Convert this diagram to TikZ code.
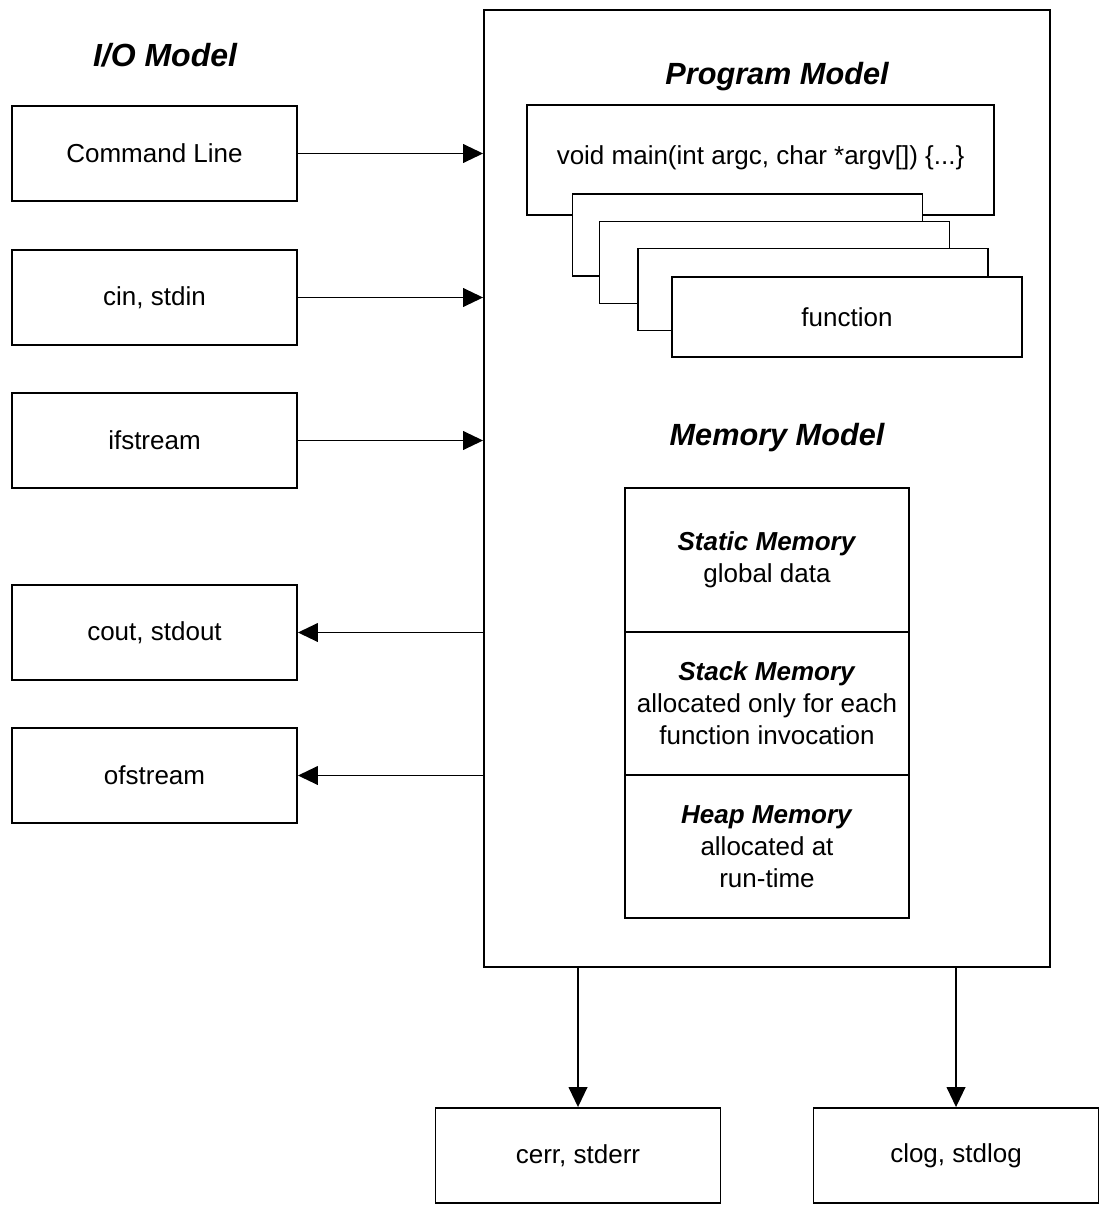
\documentclass[tikz,border=0pt]{standalone}
\usepackage{fontspec}
\setmainfont{Liberation Sans}
\usetikzlibrary{arrows.meta}
\tikzset{
  box/.style={draw=black, line width=1.4pt, fill=white, rectangle, align=center,
    inner sep=2pt, font=\fontsize{19.5}{24}\selectfont},
  iobox/.style={box, minimum width=213.75pt, minimum height=71.25pt},
  stackbox/.style={box, minimum width=262.5pt, minimum height=61.5pt},
  membox/.style={box, minimum width=213pt, minimum height=107.5pt},
  title/.style={font=\fontsize{23}{27}\selectfont\bfseries\itshape},
  arr/.style={line width=1.4pt, -{Triangle[length=15pt,width=14pt]}}
}
\begin{document}
\begin{tikzpicture}[x=0.75pt,y=-0.75pt]
\useasboundingbox (0,0) rectangle (1101,1205);
% big container
\node[box, minimum width=424.5pt, minimum height=717.75pt] (big) at (767,488.5) {};
% titles
\node[title, font=\fontsize{24}{28}\selectfont\bfseries\itshape] (iotitle) at (165,55) {I/O Model};
\node[title] (progtitle) at (777,77) {Program Model};
\node[title] (memtitle) at (777,438) {Memory Model};
% left IO boxes
\node[iobox] (cmd) at (154.5,153.5) {Command Line};
\node[iobox] (cin) at (154.5,297.5) {cin, stdin};
\node[iobox] (ifs) at (154.5,440.5) {ifstream};
\node[iobox] (cout) at (154.5,632.5) {cout, stdout};
\node[iobox] (ofs) at (154.5,775.5) {ofstream};
% bottom IO boxes
\node[iobox] (cerr) at (578,1155.5) {cerr, stderr};
\node[iobox] (clog) at (956,1155.5) {clog, stdlog};
% program model
\node[box, minimum width=350.25pt, minimum height=82.5pt] (mainf) at (760.5,160) {};
\node[font=\fontsize{19.5}{24}\selectfont] (maintext) at (760.5,158) {void main(int argc, char *argv[]) \{...\}};
\node[stackbox] (s1) at (747.5,235) {};
\node[stackbox] (s2) at (774.5,262.5) {};
\node[stackbox] (s3) at (813,289.5) {};
\node[stackbox, minimum height=60pt] (func) at (847,317) {function};
% memory model
\node[membox] (static) at (767,560) {\textbf{\textit{Static Memory}}\\global data};
\node[membox] (stack) at (767,703.5) {\textbf{\textit{Stack Memory}}\\allocated only for each\\function invocation};
\node[membox] (heap) at (767,846.5) {\textbf{\textit{Heap Memory}}\\allocated at\\run-time};
% connectors
\draw[arr] (cmd.east) -- (cmd.east -| big.west);
\draw[arr] (cin.east) -- (cin.east -| big.west);
\draw[arr] (ifs.east) -- (ifs.east -| big.west);
\draw[arr] (cout.east -| big.west) -- (cout.east);
\draw[arr] (ofs.east -| big.west) -- (ofs.east);
\draw[arr] (big.south -| cerr.north) -- (cerr.north);
\draw[arr] (big.south -| clog.north) -- (clog.north);
\end{tikzpicture}
\end{document}
